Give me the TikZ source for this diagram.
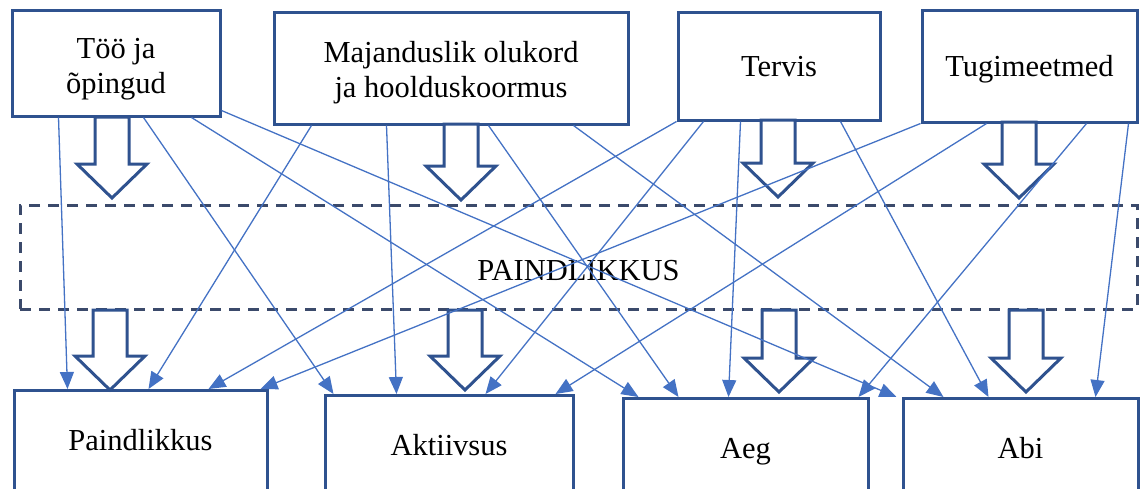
\documentclass[tikz,border=0pt]{standalone}
\usepackage{fontspec}
\setmainfont{Liberation Serif}
\usetikzlibrary{arrows.meta}

\definecolor{boxblue}{HTML}{2F528F}
\definecolor{lineblue}{HTML}{4472C4}
\definecolor{dashgray}{HTML}{3B4A6B}

% block arrow pointing down: centre x, top y, tip y
\newcommand{\blockdown}[3]{%
  \draw [bigarrow] (#1-17, #2) -- (#1-17, #3-34) -- (#1-35, #3-34) -- (#1, #3)
    -- (#1+35, #3-34) -- (#1+17, #3-34) -- (#1+17, #2) -- cycle;}

\begin{document}
\begin{tikzpicture}[
    x=1pt, y=-1pt,
    every node/.append style={font=\fontsize{30.5}{35}\selectfont},
    box/.style={draw=boxblue, line width=3pt, fill=white, align=center, inner sep=0},
    twoline/.style={text height=#1, text depth=0pt},
    oneline/.style={text height=21pt, text depth=0pt},
    outbox/.style={box, anchor=north, minimum height=106, text height=21pt, text depth=7pt},
    flexbox/.style={draw=dashgray, line width=3pt, dash pattern=on 11pt off 8pt, inner sep=0},
    bigarrow/.style={draw=boxblue, line width=3pt, fill=white, line join=miter},
    link/.style={draw=lineblue, line width=1.3pt, -{Triangle[length=17pt, width=14pt]}},
  ]
  \useasboundingbox (0,0) rectangle (1140,488);

  % factors
  \node [box, twoline=60pt, minimum width=208, minimum height=106] (in0) at (116,63) {Töö ja\\õpingud};
  \node [box, twoline=58pt, minimum width=354, minimum height=112] (in1) at (451,68) {Majanduslik olukord\\ja hoolduskoormus};
  \node [box, oneline, minimum width=202, minimum height=108] (in2) at (779,66) {Tervis};
  \node [box, oneline, minimum width=215, minimum height=112] (in3) at (1029.5,66) {Tugimeetmed};

  % flexibility layer
  \node [flexbox, minimum width=1117, minimum height=104, text height=46pt, text depth=0pt]
    (flex) at (578.5,257) {PAINDLIKKUS};

  % outcomes
  \node [outbox, minimum width=253] (out0) at (140.5,389) {Paindlikkus};
  \node [outbox, minimum width=248] (out1) at (449,394) {Aktiivsus};
  \node [outbox, minimum width=245] (out2) at (745.5,397) {Aeg};
  \node [outbox, minimum width=235] (out3) at (1020.5,397) {Abi};

  % big arrows
  \foreach \x/\ya/\yb in {112/117/198, 461/124/200, 778/120/197, 1019/122/198,
                          110/310/390, 465/310/390, 779/310/392, 1026/310/392}{%
    \blockdown{\x}{\ya}{\yb}
  };

  % every factor to every outcome
  \foreach \s/\sx/\t/\tx in {0/48/0/55, 0/133/1/10, 0/181/2/17,
                             1/39/0/136, 1/114/1/73, 1/216/2/57, 1/301/3/42,
                             2/0/0/196, 2/27/1/162, 2/64/2/107, 2/164/3/87,
                             3/0/0/248, 3/66/1/232, 3/166/2/237, 3/208/3/194}{%
    \draw [link] ([xshift=\sx]in\s.south west) -- ([xshift=\tx]out\t.north west);
  };
  \draw [link] ([yshift=7]in0.south east) -- ([xshift=-5]out3.north west);
\end{tikzpicture}
\end{document}
